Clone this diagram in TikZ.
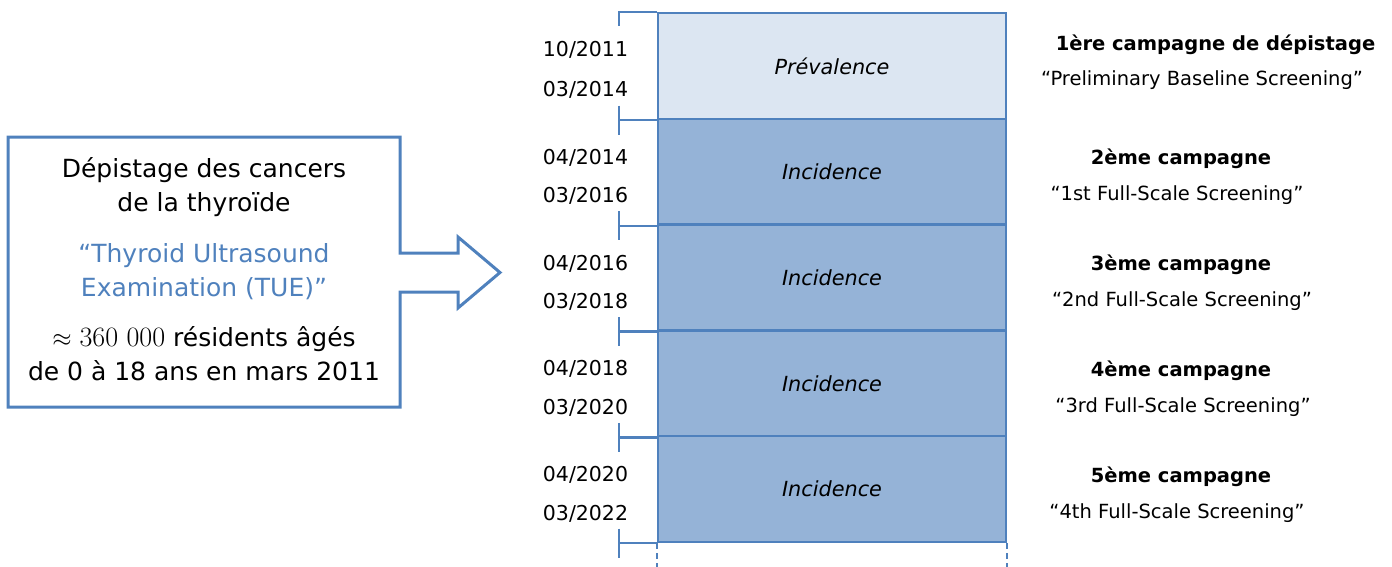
\documentclass[tikz,border=0pt]{standalone}
\usepackage{fontspec}
\setsansfont{DejaVu Sans}
\renewcommand{\familydefault}{\sfdefault}
\definecolor{tueblue}{HTML}{4F81BD}
\definecolor{palefill}{HTML}{DCE6F2}
\definecolor{midfill}{HTML}{95B3D7}

\begin{document}
\begin{tikzpicture}[x=1pt,y=-1pt,
    phase/.style={draw=tueblue,line width=2.4pt,minimum width=348pt,minimum height=105.8pt,inner sep=0pt,font=\fontsize{20.8}{24}\selectfont\itshape},
    datelbl/.style={anchor=base,font=\fontsize{20.5}{24}\selectfont},
    boxtxt/.style={anchor=base,align=center,font=\fontsize{25}{34}\selectfont},
    camptitle/.style={anchor=base,font=\fontsize{19.5}{24}\selectfont\bfseries},
    campname/.style={anchor=base,font=\fontsize{19.5}{24}\selectfont},
    tick/.style={draw=tueblue,line width=2.4pt}]
    \useasboundingbox (0,0) rectangle (1392,566);
    \draw [tueblue,line width=3pt,line join=miter] (8,137) -- (400,137) -- (400,253) -- (458,253) -- (458,237)
        -- (500,272.5) -- (458,308) -- (458,292) -- (400,292) -- (400,407) -- (8,407) -- cycle;
    \node [boxtxt] (t1) at (204,211.7) {Dépistage des cancers\\de la thyroïde};
    \node [boxtxt,text=tueblue] (t2) at (204,296.7) {“Thyroid Ultrasound\\Examination (TUE)”};
    \node [boxtxt] (t3) at (204,380) {$\approx$ {\rmfamily\fontsize{28}{34}\selectfont 360 000} résidents âgés\\de 0 à 18 ans en mars 2011};

    \node [phase,fill=palefill] (r1) at (832,65.9) {Prévalence};
    \node [phase,fill=midfill] (r2) at (832,171.7) {Incidence};
    \node [phase,fill=midfill] (r3) at (832,277.5) {Incidence};
    \node [phase,fill=midfill] (r4) at (832,383.3) {Incidence};
    \node [phase,fill=midfill] (r5) at (832,489.1) {Incidence};

    \draw [tick] (r1.north west) -- ++(-38,0) -- ++(0,14);
    \draw [tick] (r1.south west) -- ++(-38,0) ++(0,-14.5) -- ++(0,29);
    \draw [tick] (r2.south west) -- ++(-38,0) ++(0,-14.5) -- ++(0,29);
    \draw [tick] (r3.south west) -- ++(-38,0) ++(0,-14.5) -- ++(0,29);
    \draw [tick] (r4.south west) -- ++(-38,0) ++(0,-14.5) -- ++(0,29);
    \draw [tick] (r5.south west) -- ++(-38,0) ++(0,-14.5) -- ++(0,29);
    \draw [tick,line width=2pt,dash pattern=on 6pt off 4pt] (r5.south west) -- ++(0,24);
    \draw [tick,line width=2pt,dash pattern=on 6pt off 4pt] (r5.south east) -- ++(0,24);

    \node [datelbl] (d1a) at (585.5,56.7) {10/2011};
    \node [datelbl] (d1b) at (585.5,96.7) {03/2014};
    \node [datelbl] (d2a) at (585.5,164.3) {04/2014};
    \node [datelbl] (d2b) at (585.5,202.8) {03/2016};
    \node [datelbl] (d3a) at (585.5,270.1) {04/2016};
    \node [datelbl] (d3b) at (585.5,308.6) {03/2018};
    \node [datelbl] (d4a) at (585.5,375.9) {04/2018};
    \node [datelbl] (d4b) at (585.5,414.4) {03/2020};
    \node [datelbl] (d5a) at (585.5,481.7) {04/2020};
    \node [datelbl] (d5b) at (585.5,520.2) {03/2022};

    \node [camptitle] (c1a) at (1215.5,50) {1ère campagne de dépistage};
    \node [campname] (c1b) at (1202,85) {“Preliminary Baseline Screening”};
    \node [camptitle] (c2a) at (1181,164.8) {2ème campagne};
    \node [campname] (c2b) at (1177,200.8) {“1st Full-Scale Screening”};
    \node [camptitle] (c3a) at (1181,270.6) {3ème campagne};
    \node [campname] (c3b) at (1182,306.6) {“2nd Full-Scale Screening”};
    \node [camptitle] (c4a) at (1181,376.4) {4ème campagne};
    \node [campname] (c4b) at (1183,412.4) {“3rd Full-Scale Screening”};
    \node [camptitle] (c5a) at (1181,482.2) {5ème campagne};
    \node [campname] (c5b) at (1177,518.2) {“4th Full-Scale Screening”};
\end{tikzpicture}
\end{document}
